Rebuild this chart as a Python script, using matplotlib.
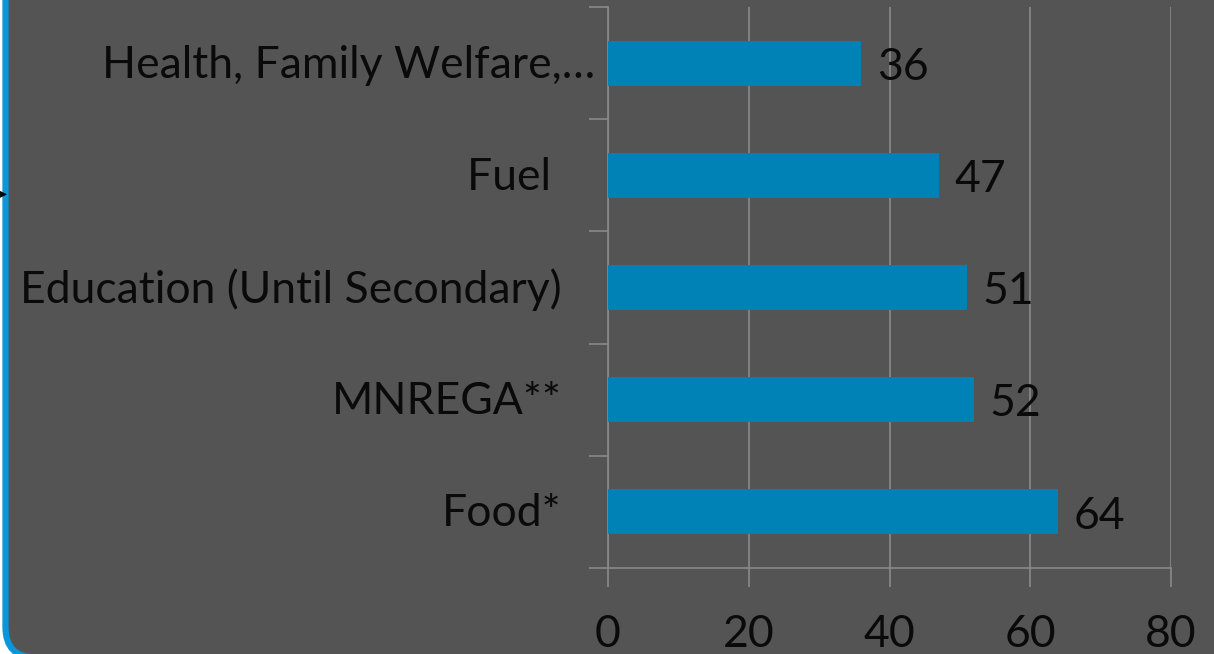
import matplotlib.pyplot as plt
from matplotlib.patches import FancyBboxPatch
from matplotlib.transforms import blended_transform_factory, ScaledTranslation

categories = ["Food*", "MNREGA**", "Education (Until Secondary)", "Fuel ", "Health, Family Welfare,…"]
values = [64, 52, 51, 47, 36]
x_ticks = [0, 20, 40, 60, 80]

W, H = 1214, 654
bg = "#545454"
bar_color = "#0082b6"
grid_color = "#8a8a8a"
text_color = "#0a0a0a"
fs = 32

plt.rcParams['font.family'] = ['Lato', 'DejaVu Sans']

fig = plt.figure(figsize=(W / 100, H / 100), dpi=100)
fig.patch.set_facecolor("white")

# Rounded panel with the blue edge (only left and bottom show)
panel = FancyBboxPatch((5.5 / W, -3.5 / H), 1.2, 1.2,
                       boxstyle="round,pad=0,rounding_size=0.025",
                       transform=fig.transFigure, facecolor=bg,
                       edgecolor="#0a96d8", linewidth=4.5, mutation_aspect=W / H,
                       zorder=-5)
fig.patches.append(panel)
fig.text(0.0, 1 - 193 / H, "▸", fontsize=10, color="black", va="center", ha="left",
         family=["DejaVu Sans"])

ax = fig.add_axes([608 / W, 1 - 568 / H, (1171 - 608) / W, (568 - 7) / H])
ax.set_facecolor("none")

y = list(range(len(categories)))
ax.barh(y, values, height=0.4, color=bar_color, zorder=3)

ax.set_xlim(0, 80)
ax.set_ylim(-0.5, len(categories) - 0.5)
ax.set_xticks(x_ticks)
ax.set_xticklabels([str(t) for t in x_ticks], fontsize=fs, color=text_color)
ax.tick_params(axis="x", length=14, width=1.2, color=grid_color, pad=19, direction="out")
ax.set_yticks([i - 0.5 for i in range(len(categories) + 1)])
ax.set_yticklabels([])
ax.tick_params(axis="y", length=14, width=1.2, color=grid_color, direction="out")

ax.grid(axis="x", color=grid_color, linewidth=1.2, zorder=0)
for s in ["top", "right"]:
    ax.spines[s].set_visible(False)
for s in ["left", "bottom"]:
    ax.spines[s].set_color(grid_color)
    ax.spines[s].set_linewidth(1.2)

# Category labels
trans = blended_transform_factory(ax.transAxes, ax.transData)
for i, (cat, v) in enumerate(zip(categories, values)):
    dx = -46 if i < len(categories) - 1 else -13
    ax.text(0, i, cat, transform=trans + ScaledTranslation(dx / 100, -0.02, fig.dpi_scale_trans),
            ha="right", va="center", fontsize=fs, color=text_color)
    ax.annotate(str(v), (v, i), xytext=(11, -3), textcoords="offset points",
                ha="left", va="center", fontsize=fs, color=text_color)

fig.savefig("out.png", dpi=100, facecolor=fig.get_facecolor())
